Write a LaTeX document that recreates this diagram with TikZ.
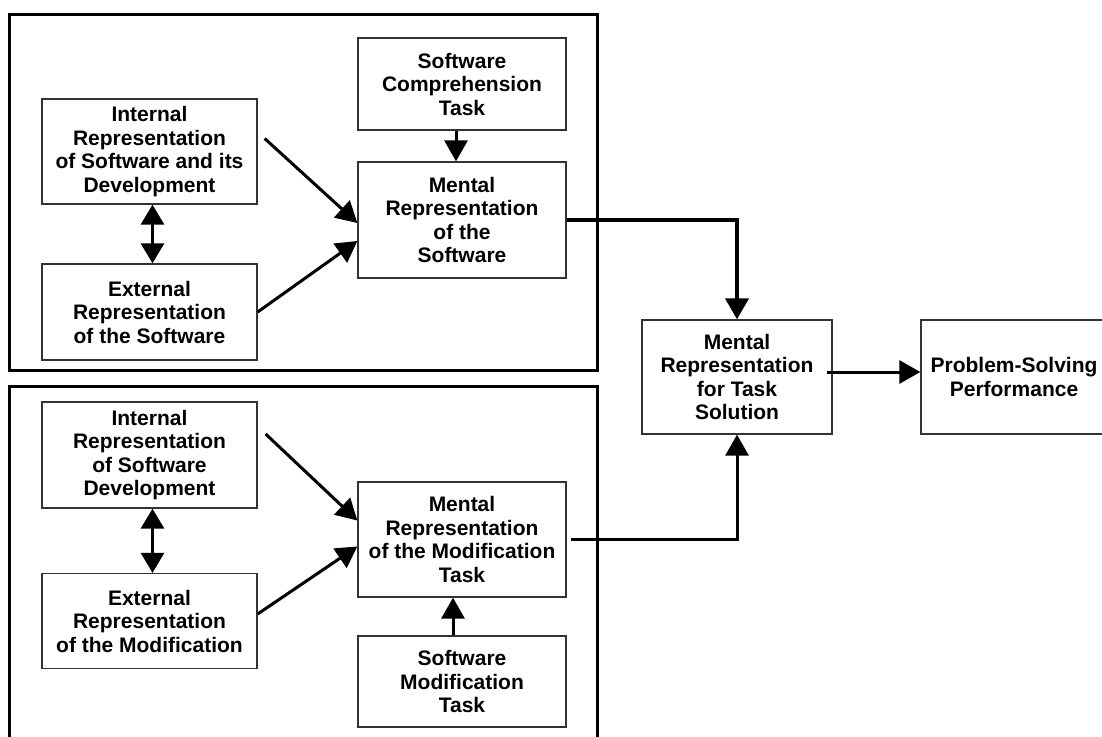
\documentclass[tikz,border=0pt]{standalone}
\usepackage{fontspec}
\setmainfont{Liberation Sans}
\usetikzlibrary{arrows.meta}

\tikzset{
    bigtip/.style={-{Triangle[length=21pt,width=23pt]}},
    bothtips/.style={{Triangle[length=20pt,width=23pt]}-{Triangle[length=20pt,width=23pt]}}
}

\begin{document}
\begin{tikzpicture}[x=1pt,y=-1pt]
    \useasboundingbox (0,0) rectangle (1102,736);
    % the two groups
    \draw[line width=3pt] (9,14) rectangle (597,370);
    \draw[line width=3pt] (9,386) rectangle (597,745);
    \begin{scope}[every node/.style={draw=black!80, line width=1.3pt, align=center, inner sep=0pt, font=\bfseries\fontsize{21}{23.5}\selectfont}]
        % comprehension
        \node[minimum width=215pt, minimum height=105pt] (int1) at (149.5,151.5) {Internal\\Representation\\of Software and its\\Development};
        \node[minimum width=215pt, minimum height=96pt] (ext1) at (149.5,312) {External\\Representation\\of the Software};
        \node[minimum width=208pt, minimum height=92pt] (task1) at (462,84) {Software\\Comprehension\\Task};
        \node[minimum width=208pt, minimum height=116pt] (ment1) at (462,220) {Mental\\Representation\\of the\\Software};
        % modification
        \node[minimum width=215pt, minimum height=106pt] (int2) at (149.5,455) {Internal\\Representation\\of Software\\Development};
        \node[minimum width=215pt, minimum height=95pt] (ext2) at (149.5,621) {External\\Representation\\of the Modification};
        \node[minimum width=208pt, minimum height=115pt] (ment2) at (462,539.5) {Mental\\Representation\\of the Modification\\Task};
        \node[minimum width=208pt, minimum height=91pt] (task2) at (462,681.5) {Software\\Modification\\Task};
        % solution
        \node[minimum width=190pt, minimum height=114pt] (sol) at (737,377) {Mental\\Representation\\for Task\\Solution};
        \node[minimum width=186pt, minimum height=114pt] (perf) at (1014,377) {Problem-Solving\\Performance};
    \end{scope}
    \begin{scope}[every edge/.style={draw, line width=3pt, bigtip}]
        \path ([xshift=7pt,yshift=13pt]int1.east) edge ([yshift=-3pt]ment1.west);
        \path (ext1.east) edge ([yshift=-21pt]ment1.west);
        \path ([xshift=-6pt]task1.south) edge ([xshift=-6pt]ment1.north);
        \path ([xshift=3pt]int1.south) edge[bothtips] ([xshift=3pt]ext1.north);
        \path ([xshift=8pt,yshift=21pt]int2.east) edge ([yshift=19pt]ment2.west);
        \path ([yshift=7pt]ext2.east) edge ([yshift=-7pt]ment2.west);
        \path ([xshift=-9pt]task2.north) edge ([xshift=-9pt]ment2.south);
        \path ([xshift=3pt]int2.south) edge[bothtips] ([xshift=3pt]ext2.north);
        \path ([xshift=-6pt,yshift=5pt]sol.east) edge ([yshift=5pt]perf.west);
    \end{scope}
    \draw[line width=4pt, bigtip] (ment1.east) -| (sol.north);
    \draw[line width=3pt, bigtip] ([xshift=4pt]ment2.east) -| (sol.south);
\end{tikzpicture}
\end{document}
